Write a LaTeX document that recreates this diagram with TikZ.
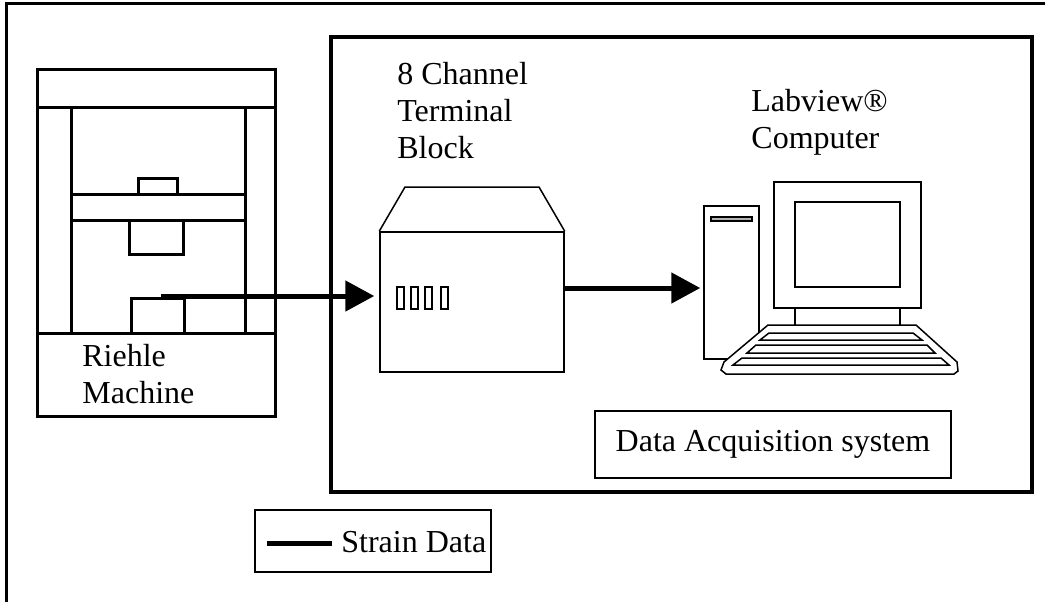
\documentclass[tikz,border=0pt]{standalone}
\usepackage{fontspec}
\setmainfont{Liberation Serif}
\usetikzlibrary{calc, positioning, arrows.meta}

\begin{document}
\begin{tikzpicture}[x=0.5pt, y=-0.5pt, font=\fontsize{16}{18.5}\selectfont]
\tikzstyle{lbl}=[align=left, inner sep=0pt, anchor=base west]
\tikzstyle{thick_ln}=[line width=1.5pt]
\tikzstyle{thin_ln}=[line width=0.75pt]
\tikzstyle{box}=[rectangle, draw, line width=0.75pt, inner sep=0pt]
\tikzstyle{flow}=[line width=2.5pt, -{Triangle[length=14.5pt, width=15pt]}]

\useasboundingbox (0,0) rectangle (1045,602);

% outer frame
\draw[thick_ln] (6,602) -- (6,3) -- (1045,3);

% test machine
\draw[thick_ln] (37,69) rectangle (275,416);
\draw[thick_ln] (37,107) -- (275,107) (37,333) -- (275,333);
\draw[thick_ln] (71,107) -- (71,333) (245,107) -- (245,333);
\draw[thick_ln] (71,194) rectangle (245,220);
\draw[thick_ln] (138,178) rectangle (177,194);
\draw[thick_ln] (129,220) rectangle (183,254);
\node at (157.5,315.5) [box, thick_ln, minimum width=26.5pt, minimum height=17.5pt] (grip) {};
% multi-line labels sit on the baseline of their last line
\node at (82,403) [lbl] (machine) {Riehle\\Machine};

% data acquisition system
\draw[line width=2pt] (331,37) rectangle (1032,492);

\node at (397,158) [lbl] (tb_label) {8 Channel\\Terminal\\Block};
\node at (472,302) [box, minimum width=92pt, minimum height=70pt] (tblock) {};
\draw[thin_ln] (tblock.north west) -- (405,187) -- (539,187) -- (tblock.north east);
\foreach \x in {397,411,425,441}
	\draw[thin_ln] (\x,287) rectangle ++(7,22);

\node at (751,148) [lbl] (pc_label) {Labview®\\Computer};
\node at (731.5,282.5) [box, minimum width=27.5pt, minimum height=76.5pt] (tower) {};
\draw[thin_ln, fill=gray!60] (711,217) rectangle (752,221);
\draw[thin_ln] (774,182) rectangle (921,308);
\draw[thin_ln] (795,202) rectangle (900,287);
\draw[thin_ln] (795,308) -- (795,325) (900,308) -- (900,325);
\draw[thin_ln, fill=white] (768,325) -- (916,325) -- (957,362) -- (958,371) -- (954,374)
	-- (726,374) -- (721,370) -- (724,362) -- cycle;
\draw[thin_ln] (769,333) -- (913,333) -- (922,340) -- (760,340) -- cycle;
\draw[thin_ln] (756,345) -- (927,345) -- (935,353) -- (747,353) -- cycle;
\draw[thin_ln] (742,358) -- (941,358) -- (949,365) -- (733,365) -- cycle;

\node at (773,444.5) [box, minimum width=178pt, minimum height=33.5pt] (daq) {Data Acquisition system};

% strain signal path
\coordinate (sensor) at (161,296);
\draw[flow, shorten >=2.5pt] (sensor) -- (sensor -| tblock.west);
\coordinate (tb_out) at ($(tblock.east)+(0,-14)$);
\draw[flow, shorten >=1.5pt] (tb_out) -- (tb_out -| tower.west);

% legend
\node at (373,541) [box, minimum width=118pt, minimum height=31pt] (legend) {};
\draw[line width=2.5pt] ($(legend.west)+(13,2)$) -- ++(65,0);
\node at (341,552) [lbl] (legend_txt) {Strain Data};

\end{tikzpicture}
\end{document}
